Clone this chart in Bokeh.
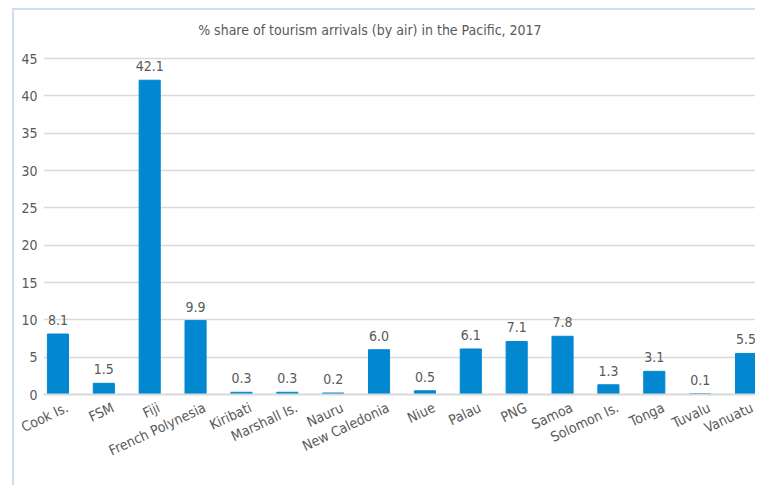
from bokeh.plotting import figure
from bokeh.models import Range1d, FixedTicker, ColumnDataSource, LabelSet, Label
from bokeh.core.properties import value
from bokeh.embed import file_html
from bokeh.resources import INLINE

categories = ["Cook Is.", "FSM", "Fiji", "French Polynesia", "Kiribati", "Marshall Is.",
              "Nauru", "New Caledonia", "Niue", "Palau", "PNG", "Samoa", "Solomon Is.",
              "Tonga", "Tuvalu", "Vanuatu"]
values = [8.1, 1.5, 42.1, 9.9, 0.3, 0.3, 0.2, 6.0, 0.5, 6.1, 7.1, 7.8, 1.3, 3.1, 0.1, 5.5]
y_ticks = [0, 5, 10, 15, 20, 25, 30, 35, 40, 45]
title_text = "% share of tourism arrivals (by air) in the Pacific, 2017"

FONT = "DejaVu Sans Condensed"
GREY = "#595959"
GRID = "#d9d9d9"
BLUE = "#0288D1"

idx = list(range(len(categories)))
src = ColumnDataSource(dict(x=idx, v=values, lab=[f"{v:.1f}" for v in values]))

# frame extends above the 45 line so the title sits inside it
p = figure(width=743, height=477, output_backend="svg", toolbar_location=None,
           x_range=Range1d(-0.315, 15.25), y_range=Range1d(0, 50.1),
           min_border_left=29, min_border_right=0, min_border_top=10, min_border_bottom=93)
p.styles = {"border-top": "2px solid #cfddf4", "border-left": "2px solid #cfddf4",
            "margin-left": "12px", "margin-top": "8px"}
p.outline_line_color = None
p.background_fill_color = "white"
p.border_fill_color = "white"

p.vbar(x="x", top="v", width=0.46, source=src, color=BLUE)
p.add_layout(LabelSet(x="x", y="v", text="lab", source=src, text_align="center",
                      text_baseline="bottom", y_offset=9, text_color=GREY,
                      text_font=value(FONT), text_font_size="14px"))

p.add_layout(Label(x=6.8, y=48.8, text=title_text, text_align="center",
                   text_baseline="middle", text_color=GREY, text_font=FONT,
                   text_font_size="14px"))

# category labels on the axis; ticks shifted a little right like the original
shift = 0.2
tick_pos = [i + shift for i in idx]
p.xaxis.ticker = FixedTicker(ticks=tick_pos)
p.xaxis.major_label_overrides = {t: c for t, c in zip(tick_pos, categories)}
p.xaxis.major_label_orientation = 0.44
p.xaxis.major_tick_line_color = None
p.xaxis.major_tick_in = 0
p.xaxis.major_tick_out = 0
p.xaxis.minor_tick_line_color = None
p.xaxis.axis_line_color = GRID
p.xaxis.axis_line_width = 2
p.xaxis.major_label_text_font = FONT
p.xaxis.major_label_text_font_size = "14px"
p.xaxis.major_label_text_color = GREY
p.xaxis.major_label_standoff = 12

p.yaxis.ticker = FixedTicker(ticks=y_ticks)
p.yaxis.major_tick_line_color = None
p.yaxis.major_tick_in = 0
p.yaxis.major_tick_out = 0
p.yaxis.minor_tick_line_color = None
p.yaxis.axis_line_color = None
p.yaxis.major_label_text_font = FONT
p.yaxis.major_label_text_font_size = "14px"
p.yaxis.major_label_text_color = GREY
p.yaxis.major_label_standoff = 6

p.xgrid.grid_line_color = None
p.ygrid.ticker = FixedTicker(ticks=y_ticks)
p.ygrid.grid_line_color = GRID
p.ygrid.grid_line_width = 1.5

open("out.html", "w").write(file_html(p, INLINE))
